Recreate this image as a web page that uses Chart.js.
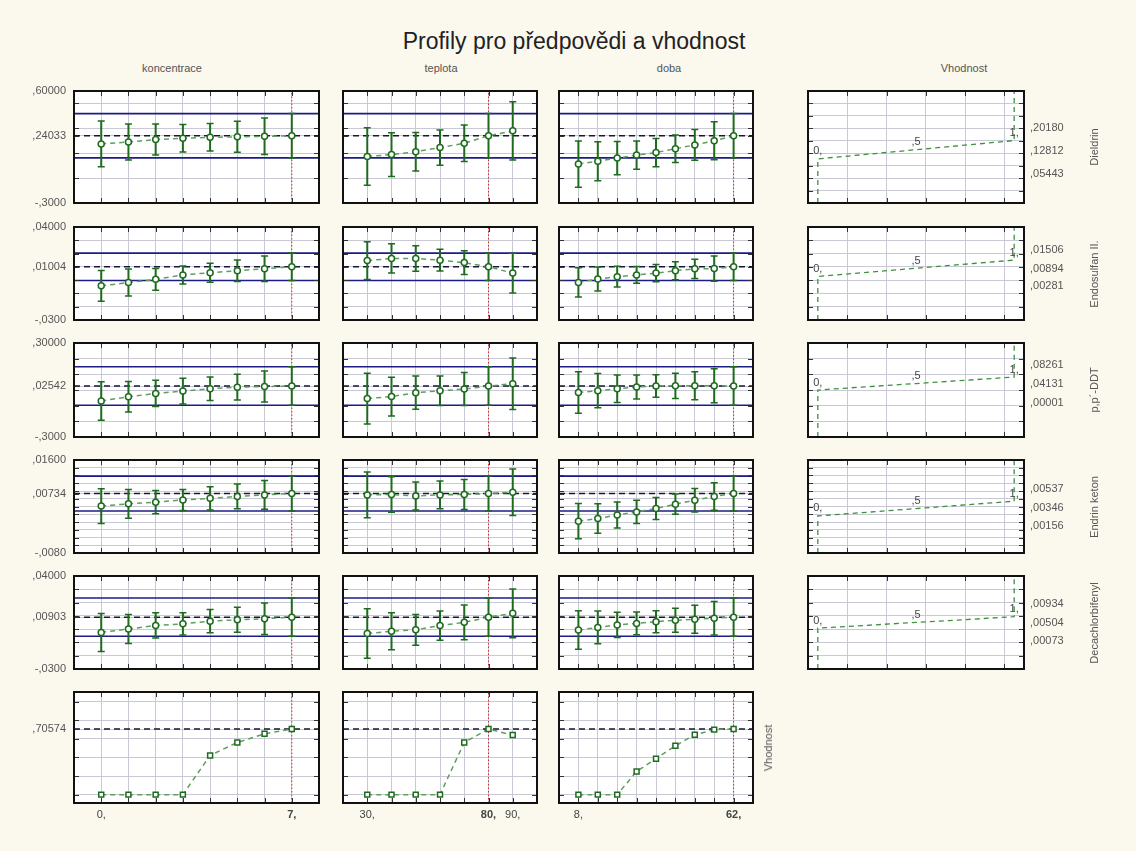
<!DOCTYPE html>
<html lang="cs">
<head>
<meta charset="UTF-8">
<title>Profily pro předpovědi a vhodnost</title>
<script src="https://cdn.jsdelivr.net/npm/chart.js"></script>
<style>
  body { margin: 0; background: #fbf8ee; font-family: "Liberation Sans", Arial, sans-serif; }
  #wrap { position: relative; width: 1136px; height: 851px; overflow: hidden; }
  #wrap canvas { position: absolute; }
  .t { position: absolute; color: #555; font-size: 11px; white-space: nowrap; line-height: 14px; }
  .rot { transform: translate(-50%, -50%) rotate(-90deg); }
  .ctr { transform: translate(-50%, -50%); }
</style>
</head>
<body>
<div id="wrap"></div>
<script>
// ---- data ----
const title = 'Profily pro předpovědi a vhodnost';
const factors = ['koncentrace', 'teplota', 'doba'];
const koncLevels = [0, 1, 2, 3, 4, 5, 6, 7];
const teplLevels = [30, 40, 50, 60, 70, 80, 90];
const dobaLevels = [8, 14.75, 21.5, 28.25, 35, 41.75, 48.5, 55.25, 62];
const currentLevels = [7, 80, 62];
const xRange = [[-1, 8], [20, 100], [1.25, 68.75]];

const responses = ['Dieldrin', 'Endosulfan II.', 'p,p´-DDT', 'Endrin keton', 'Decachlorbifenyl'];
const respMin = [-0.3, -0.03, -0.3, -0.008, -0.03];
const respMax = [0.6, 0.04, 0.3, 0.016, 0.04];
const respCurrent = [0.24033, 0.01004, 0.02542, 0.00734, 0.00903];
const respCiHalf = [0.178, 0.0103, 0.123, 0.0045, 0.0144];
const gridStepProfile = [0.2, 0.01, 0.1, 0.002, 0.01];
const gridStepDesir = [0.1, 0.01, 0.1, 0.002, 0.01];

// predicted means and +- half widths, one row per response
const koncMeans = [
  [0.175, 0.19, 0.21, 0.22, 0.228, 0.232, 0.236, 0.24033],
  [-0.0043, -0.0018, 0.0006, 0.0039, 0.0056, 0.0071, 0.0086, 0.01004],
  [-0.07, -0.043, -0.022, -0.007, 0.008, 0.018, 0.022, 0.02542],
  [0.0041, 0.0047, 0.0051, 0.0057, 0.0061, 0.0066, 0.007, 0.00734],
  [-0.0025, 0.0001, 0.0028, 0.004, 0.006, 0.007, 0.0078, 0.00903]
];
const koncHalf = [
  [0.184, 0.145, 0.125, 0.11, 0.11, 0.125, 0.147, 0.178],
  [0.0116, 0.0101, 0.0082, 0.0068, 0.0071, 0.0081, 0.0096, 0.0103],
  [0.123, 0.098, 0.0835, 0.0825, 0.0745, 0.0825, 0.0985, 0.123],
  [0.0045, 0.0037, 0.003, 0.0027, 0.003, 0.0032, 0.0037, 0.0045],
  [0.0143, 0.011, 0.0095, 0.0084, 0.0088, 0.0094, 0.0119, 0.0144]
];
const teplMeans = [
  [0.074, 0.089, 0.112, 0.145, 0.18, 0.24033, 0.28],
  [0.0147, 0.0163, 0.0163, 0.015, 0.0132, 0.01004, 0.0053],
  [-0.055, -0.042, -0.017, -0.005, 0.006, 0.02542, 0.04],
  [0.007, 0.0071, 0.0067, 0.007, 0.0071, 0.00734, 0.0077],
  [-0.0033, -0.0016, -0.0005, 0.0027, 0.0051, 0.00903, 0.0119]
];
const teplHalf = [
  [0.2315, 0.1755, 0.1555, 0.141, 0.147, 0.178, 0.2345],
  [0.0142, 0.011, 0.0096, 0.0082, 0.0089, 0.0103, 0.0149],
  [0.1625, 0.124, 0.106, 0.094, 0.105, 0.123, 0.1645],
  [0.0059, 0.0046, 0.0036, 0.0036, 0.0039, 0.0045, 0.006],
  [0.0186, 0.014, 0.0116, 0.011, 0.013, 0.0144, 0.0183]
];
const dobaMeans = [
  [0.013, 0.036, 0.061, 0.085, 0.105, 0.136, 0.167, 0.2, 0.24033],
  [-0.0017, 0.0008, 0.0026, 0.0039, 0.0053, 0.0071, 0.0085, 0.0087, 0.01004],
  [-0.016, -0.004, 0.008, 0.019, 0.026, 0.027, 0.027, 0.027, 0.02542],
  [0.0002, 0.0009, 0.0018, 0.0026, 0.0035, 0.0046, 0.0056, 0.0066, 0.00734],
  [-0.0007, 0.0013, 0.0032, 0.0043, 0.0056, 0.0067, 0.0075, 0.0082, 0.00903]
];
const dobaHalf = [
  [0.186, 0.1565, 0.1335, 0.1135, 0.114, 0.111, 0.123, 0.1525, 0.178],
  [0.011, 0.009, 0.0078, 0.0063, 0.0065, 0.0068, 0.0072, 0.0095, 0.0103],
  [0.132, 0.109, 0.088, 0.077, 0.072, 0.0805, 0.09, 0.109, 0.123],
  [0.00455, 0.0038, 0.00335, 0.003, 0.00285, 0.0026, 0.00305, 0.00355, 0.0045],
  [0.0145, 0.0123, 0.0095, 0.0086, 0.0083, 0.009, 0.0105, 0.0126, 0.0144]
];

// overall desirability (Vhodnost) profiles
const desirKonc = [0, 0, 0, 0, 0.422, 0.562, 0.655, 0.70574];
const desirTepl = [0, 0, 0, 0, 0.562, 0.70574, 0.641];
const desirDoba = [0, 0, 0, 0.25, 0.387, 0.526, 0.644, 0.70, 0.70574];
const desirCurrent = 0.70574;
const desirAxis = [-0.09, 1.105];

// desirability functions per response: value for d = 0, 0.5, 1
const desirLow = [0.05443, 0.00281, 0.00001, 0.00156, 0.00073];
const desirMid = [0.12812, 0.00894, 0.04131, 0.00346, 0.00504];
const desirHigh = [0.20180, 0.01506, 0.08261, 0.00537, 0.00934];
const desirLevels = [0, 0.5, 1];
const desirLevelText = ['0,', ',5', '1,'];

// ---- layout ----
const colBox = [[74, 319], [343, 537], [559, 753], [808, 1024]];
const rowBox = [[91, 203], [227, 320], [343, 437], [460, 553], [576, 669], [692, 803]];
const descLabelY = [[127, 150, 173], [249, 268, 285], [364, 383, 402], [488, 507, 525], [603, 622, 640]];
const FONT = '"Liberation Sans", Arial, sans-serif';
const TXT = '#555';
const GRID = '#c9c9d5';
const BLUE = '#1c1c86';
const RED = '#d22c2c';

const wrap = document.getElementById('wrap');

function addText(txt, x, y, cls, css) {
  const d = document.createElement('div');
  d.className = 't ' + (cls || '');
  d.textContent = txt;
  d.style.left = x + 'px';
  d.style.top = y + 'px';
  Object.assign(d.style, css || {});
  wrap.appendChild(d);
  return d;
}

function fmt(v) {
  let s = v < 0 ? (-v).toFixed(4) : v.toFixed(5);
  s = s.replace(/^0/, '').replace('.', ',');
  return (v < 0 ? '-' : '') + s;
}

function gridFrom(start, max, step) {
  const out = [];
  for (let k = 0; ; k++) {
    const v = Math.round((start + k * step) * 1e9) / 1e9;
    if (v > max + 1e-12) break;
    out.push(v);
  }
  return out;
}

function line(data, color, dash, width, order) {
  return { data, showLine: true, borderColor: color, borderDash: dash, borderWidth: width, pointRadius: 0, order };
}

const deco = {
  id: 'deco',
  beforeDraw(chart) {
    const a = chart.chartArea, c = chart.ctx;
    c.save();
    c.fillStyle = '#ffffff';
    c.fillRect(a.left, a.top, a.right - a.left, a.bottom - a.top);
    c.restore();
  },
  beforeDatasetDraw(chart, args) {
    const ds = chart.data.datasets[args.index];
    if (!ds.errHalf) return;
    const c = chart.ctx, xs = chart.scales.x, ys = chart.scales.y;
    c.save();
    c.strokeStyle = '#1e6b1e';
    ds.data.forEach((p, i) => {
      const h = ds.errHalf[i];
      const x = xs.getPixelForValue(p.x);
      const yt = ys.getPixelForValue(p.y + h), yb = ys.getPixelForValue(p.y - h);
      c.lineWidth = 2;
      c.beginPath(); c.moveTo(x, yt); c.lineTo(x, yb); c.stroke();
      c.lineWidth = 1.5;
      c.beginPath();
      c.moveTo(x - 3.5, yt); c.lineTo(x + 3.5, yt);
      c.moveTo(x - 3.5, yb); c.lineTo(x + 3.5, yb);
      c.stroke();
    });
    c.restore();
  },
  afterDatasetsDraw(chart) {
    const c = chart.ctx, xs = chart.scales.x, ys = chart.scales.y;
    chart.data.datasets.forEach(ds => {
      if (!ds.ptLabels) return;
      c.save();
      c.fillStyle = '#444';
      c.font = '11px ' + FONT;
      c.textAlign = 'center';
      c.textBaseline = 'bottom';
      ds.data.forEach((p, i) => {
        if (ds.ptLabels[i]) c.fillText(ds.ptLabels[i], xs.getPixelForValue(p.x), ys.getPixelForValue(p.y) - 2);
      });
      c.restore();
    });
  },
  afterDraw(chart, args, opts) {
    const a = chart.chartArea, c = chart.ctx, xs = chart.scales.x, ys = chart.scales.y;
    c.save();
    c.strokeStyle = '#333';
    c.lineWidth = 1;
    c.beginPath();
    xs.ticks.forEach(t => {
      if (t.value <= xs.min || t.value >= xs.max) return;
      const x = Math.round(xs.getPixelForValue(t.value)) + 0.5;
      c.moveTo(x, a.top); c.lineTo(x, a.top + 5);
      c.moveTo(x, a.bottom); c.lineTo(x, a.bottom - 5);
    });
    ys.ticks.forEach(t => {
      if (t.value <= ys.min || t.value >= ys.max) return;
      const y = Math.round(ys.getPixelForValue(t.value)) + 0.5;
      c.moveTo(a.left, y); c.lineTo(a.left + 5, y);
      c.moveTo(a.right, y); c.lineTo(a.right - 5, y);
    });
    c.stroke();
    c.strokeStyle = '#111';
    c.lineWidth = 2;
    c.strokeRect(a.left, a.top, a.right - a.left, a.bottom - a.top);
    // axis value labels, placed through the scales
    c.fillStyle = TXT;
    c.font = '11px ' + FONT;
    c.textAlign = 'right';
    c.textBaseline = 'middle';
    (opts.yLabels || []).forEach(v => c.fillText(fmt(v), a.left - 8, ys.getPixelForValue(v)));
    c.textAlign = 'center';
    c.textBaseline = 'top';
    c.fillStyle = '#444';
    (opts.xLabels || []).forEach(v => {
      c.font = (v === opts.xBold ? 'bold ' : '') + '11px ' + FONT;
      c.fillText(v + ',', xs.getPixelForValue(v), a.bottom + 6);
    });
    c.restore();
  }
};

function panel(col, row, cfg) {
  const [x0, x1] = colBox[col], [y0, y1] = rowBox[row];
  const padL = col === 0 ? x0 : 10, padR = 10, padT = 10, padB = row === 5 ? 26 : 10;
  const cv = document.createElement('canvas');
  cv.width = x1 - x0 + padL + padR;
  cv.height = y1 - y0 + padT + padB;
  cv.style.left = (x0 - padL) + 'px';
  cv.style.top = (y0 - padT) + 'px';
  wrap.appendChild(cv);
  return new Chart(cv, {
    type: 'scatter',
    data: { datasets: cfg.datasets },
    plugins: [deco],
    options: {
      responsive: false,
      devicePixelRatio: 1,
      animation: false,
      events: [],
      layout: { autoPadding: false, padding: { top: padT, right: padR, left: 0, bottom: 0 } },
      plugins: {
        legend: { display: false },
        tooltip: { enabled: false },
        deco: { yLabels: cfg.yLabels || [], xLabels: cfg.xLabels || [], xBold: cfg.xBold }
      },
      scales: {
        x: {
          type: 'linear', min: cfg.xmin, max: cfg.xmax,
          afterBuildTicks: s => { s.ticks = cfg.xTicks.map(v => ({ value: v })); },
          afterFit: s => { s.height = padB; },
          grid: { color: GRID, drawTicks: false },
          border: { display: false },
          ticks: { display: false }
        },
        y: {
          type: 'linear', min: cfg.ymin, max: cfg.ymax,
          afterBuildTicks: s => { s.ticks = cfg.yTicks.map(v => ({ value: v })); },
          afterFit: s => { s.width = padL; },
          grid: { color: GRID, drawTicks: false },
          border: { display: false },
          ticks: { display: false }
        }
      }
    }
  });
}

const levels = [koncLevels, teplLevels, dobaLevels];
const meansBy = [koncMeans, teplMeans, dobaMeans];
const halfBy = [koncHalf, teplHalf, dobaHalf];
const desirBy = [desirKonc, desirTepl, desirDoba];

// response profiles
for (let r = 0; r < 5; r++) {
  const ymin = respMin[r], ymax = respMax[r], cur = respCurrent[r], ci = respCiHalf[r];
  const yGrid = gridFrom(ymin + gridStepProfile[r], ymax, gridStepProfile[r]);
  for (let c = 0; c < 3; c++) {
    const [xmin, xmax] = xRange[c], lv = levels[c], cx = currentLevels[c];
    panel(c, r, {
      xmin, xmax, xTicks: lv,
      ymin, ymax, yTicks: [...yGrid, cur].sort((a, b) => a - b),
      yLabels: c === 0 ? [ymin, cur, ymax] : [],
      datasets: [
        line([{ x: xmin, y: cur + ci }, { x: xmax, y: cur + ci }], BLUE, [], 1.6, 6),
        line([{ x: xmin, y: cur - ci }, { x: xmax, y: cur - ci }], BLUE, [], 1.6, 6),
        line([{ x: xmin, y: cur }, { x: xmax, y: cur }], '#16163a', [6, 4], 1.5, 5),
        line([{ x: cx, y: ymin }, { x: cx, y: ymax }], RED, [1.5, 2], 1, 4),
        {
          data: lv.map((x, i) => ({ x, y: meansBy[c][r][i] })),
          showLine: true, borderColor: '#5e9e5e', borderDash: [5, 4], borderWidth: 1.5,
          pointRadius: 3, pointStyle: 'circle', pointBorderColor: '#1e6b1e',
          pointBackgroundColor: '#ffffff', pointBorderWidth: 1.5,
          errHalf: halfBy[c][r], order: 1
        }
      ]
    });
  }
  // desirability function of the response
  const dx = [-0.05, 1.05];
  panel(3, r, {
    xmin: dx[0], xmax: dx[1], xTicks: gridFrom(dx[0] + 0.2, dx[1], 0.2),
    ymin, ymax, yTicks: gridFrom(ymin + gridStepDesir[r], ymax, gridStepDesir[r]),
    datasets: [{
      data: [
        { x: desirLevels[0], y: ymin },
        { x: desirLevels[0], y: desirLow[r] },
        { x: desirLevels[1], y: desirMid[r] },
        { x: desirLevels[2], y: desirHigh[r] },
        { x: desirLevels[2], y: ymax }
      ],
      ptLabels: ['', desirLevelText[0], desirLevelText[1], desirLevelText[2], ''],
      showLine: true, borderColor: '#3f8f3f', borderDash: [5, 4], borderWidth: 1.3, pointRadius: 0
    }]
  });
  const vals = [desirHigh[r], desirMid[r], desirLow[r]];
  vals.forEach((v, i) => addText(fmt(v), 1030, descLabelY[r][i] - 7));
  addText(responses[r], 1094, (rowBox[r][0] + rowBox[r][1]) / 2, 'rot');
}

// overall desirability profiles
for (let c = 0; c < 3; c++) {
  const [xmin, xmax] = xRange[c], lv = levels[c], cx = currentLevels[c];
  const [ymin, ymax] = desirAxis;
  panel(c, 5, {
    xmin, xmax, xTicks: lv,
    xLabels: [lv[0], cx, lv[lv.length - 1]].filter((v, i, a) => a.indexOf(v) === i), xBold: cx,
    ymin, ymax, yTicks: [...gridFrom(0, 1, 0.2), desirCurrent].sort((a, b) => a - b),
    yLabels: c === 0 ? [desirCurrent] : [],
    datasets: [
      line([{ x: xmin, y: desirCurrent }, { x: xmax, y: desirCurrent }], '#16163a', [6, 4], 1.5, 5),
      line([{ x: cx, y: ymin }, { x: cx, y: ymax }], RED, [1.5, 2], 1, 4),
      {
        data: lv.map((x, i) => ({ x, y: desirBy[c][i] })),
        showLine: true, borderColor: '#5e9e5e', borderDash: [5, 4], borderWidth: 1.5,
        pointRadius: 3.5, pointStyle: 'rect', pointBorderColor: '#1e6b1e',
        pointBackgroundColor: '#ffffff', pointBorderWidth: 1.5, order: 1
      }
    ]
  });
}
addText('Vhodnost', 768, (rowBox[5][0] + rowBox[5][1]) / 2, 'rot');

// titles
addText(title, 574, 41, 'ctr', { fontSize: '23px', color: '#222', lineHeight: '26px' });
const headerX = [172, 441, 669, 964];
[...factors, 'Vhodnost'].forEach((f, i) => addText(f, headerX[i], 68, 'ctr'));
</script>
</body>
</html>
